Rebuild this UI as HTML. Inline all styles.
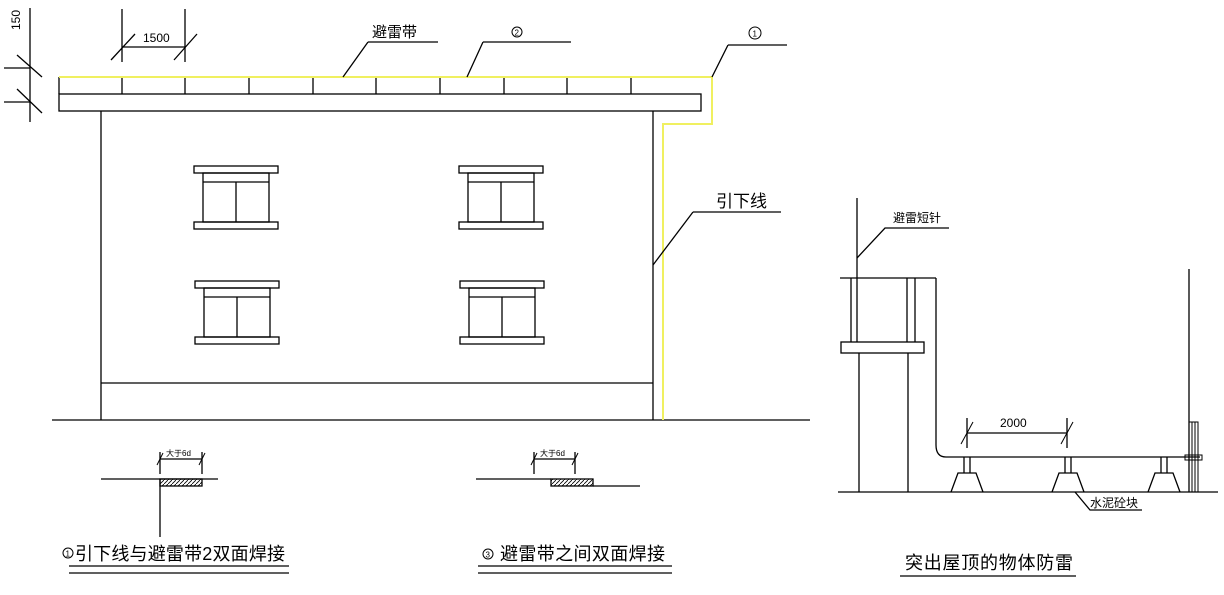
<!DOCTYPE html>
<html><head><meta charset="utf-8"><style>
html,body{margin:0;padding:0;background:#fff;width:1224px;height:595px;overflow:hidden}
svg{display:block}
text{font-family:"Liberation Sans","Noto Sans CJK SC",sans-serif;fill:#000}
</style></head><body>
<svg width="1224" height="595" viewBox="0 0 1224 595" xmlns="http://www.w3.org/2000/svg" stroke="#000" stroke-width="1.3" fill="none">
<defs>
<pattern id="h" width="4" height="4" patternUnits="userSpaceOnUse"><line x1="0" y1="4" x2="4" y2="0" stroke="#000" stroke-width="0.8"/></pattern>
</defs>
<!-- left dimension 150 -->
<line x1="30" y1="8" x2="30" y2="122"/>
<line x1="4" y1="68" x2="30" y2="68"/><line x1="4" y1="102" x2="30" y2="102"/>
<line x1="17" y1="55" x2="42" y2="77"/><line x1="17" y1="89" x2="42" y2="113"/>
<text x="0" y="0" font-size="12" stroke="none" transform="translate(20,30) rotate(-90)">150</text>
<!-- 1500 dim -->
<line x1="122" y1="9" x2="122" y2="62"/><line x1="185" y1="9" x2="185" y2="62"/>
<line x1="122" y1="47" x2="185" y2="47"/>
<line x1="111" y1="60" x2="135" y2="34"/><line x1="174" y1="60" x2="197" y2="34"/>
<text x="143" y="42" font-size="12" stroke="none">1500</text>
<!-- parapet -->
<line x1="59" y1="77" x2="59" y2="94"/>
<line x1="122" y1="77" x2="122" y2="94"/><line x1="185" y1="77" x2="185" y2="94"/>
<line x1="249" y1="77" x2="249" y2="94"/><line x1="313" y1="77" x2="313" y2="94"/>
<line x1="376" y1="77" x2="376" y2="94"/><line x1="440" y1="77" x2="440" y2="94"/>
<line x1="504" y1="77" x2="504" y2="94"/><line x1="567" y1="77" x2="567" y2="94"/>
<line x1="631" y1="77" x2="631" y2="94"/>
<rect x="59" y="94" width="642" height="17"/>
<!-- wall -->
<line x1="101" y1="111" x2="101" y2="420"/><line x1="653" y1="111" x2="653" y2="420"/>
<line x1="101" y1="383" x2="653" y2="383"/>
<line x1="52" y1="420" x2="810" y2="420"/>
<!-- yellow strap -->
<polyline points="59,77 712,77 712,124 663,124 663,420" stroke="#f0f060" stroke-width="2"/>
<!-- windows -->
<g id="w">
<rect x="194" y="166" width="84" height="7"/>
<rect x="203" y="173" width="66" height="49"/>
<line x1="203" y1="182" x2="269" y2="182"/>
<line x1="236" y1="182" x2="236" y2="222"/>
<rect x="194" y="222" width="84" height="7"/>
</g>
<use href="#w" x="1" y="115"/>
<use href="#w" x="265" y="0"/>
<use href="#w" x="266" y="115"/>
<!-- labels top -->
<line x1="343" y1="77" x2="368" y2="42"/><line x1="368" y1="42" x2="438" y2="42"/>
<text x="372" y="37" font-size="15" stroke="none">避雷带</text>
<line x1="467" y1="77" x2="483" y2="42"/><line x1="483" y1="42" x2="571" y2="42"/>
<circle cx="517" cy="32" r="5" stroke-width="1"/><text x="514.5" y="35.5" font-size="8" stroke="none">2</text>
<line x1="712" y1="77" x2="728" y2="45"/><line x1="728" y1="45" x2="787" y2="45"/>
<circle cx="755" cy="33" r="6" stroke-width="1"/><text x="752.5" y="36.5" font-size="8" stroke="none">1</text>
<line x1="653" y1="265" x2="693" y2="212"/><line x1="693" y1="212" x2="781" y2="212"/>
<text x="716" y="207" font-size="17" stroke="none">引下线</text>

<!-- detail 1 -->
<line x1="101" y1="479" x2="218" y2="479"/>
<rect x="160" y="479" width="42" height="7" fill="url(#h)"/>
<line x1="160" y1="479" x2="160" y2="537"/>
<line x1="160" y1="452" x2="160" y2="474"/><line x1="202" y1="452" x2="202" y2="474"/>
<line x1="160" y1="459" x2="202" y2="459"/>
<line x1="157" y1="465" x2="163" y2="453" stroke-width="1"/><line x1="199" y1="465" x2="205" y2="453" stroke-width="1"/>
<text x="166" y="456" font-size="8" stroke="none">大于6d</text>
<circle cx="68" cy="553" r="5" stroke-width="1"/><text x="65.5" y="556.5" font-size="8" stroke="none">1</text>
<text x="75" y="560" font-size="18" stroke="none" textLength="210">引下线与避雷带2双面焊接</text>
<line x1="69" y1="566" x2="289" y2="566"/><line x1="69" y1="573" x2="289" y2="573"/>

<!-- detail 2 -->
<line x1="476" y1="479" x2="551" y2="479"/>
<rect x="551" y="479" width="42" height="7" fill="url(#h)"/>
<line x1="593" y1="486" x2="640" y2="486"/>
<line x1="534" y1="452" x2="534" y2="474"/><line x1="575" y1="452" x2="575" y2="474"/>
<line x1="534" y1="459" x2="575" y2="459"/>
<line x1="531" y1="465" x2="537" y2="453" stroke-width="1"/><line x1="572" y1="465" x2="578" y2="453" stroke-width="1"/>
<text x="540" y="456" font-size="8" stroke="none">大于6d</text>
<circle cx="488" cy="554" r="5" stroke-width="1"/><text x="485.5" y="557.5" font-size="8" stroke="none">3</text>
<text x="500" y="560" font-size="18" stroke="none" textLength="165">避雷带之间双面焊接</text>
<line x1="478" y1="566" x2="672" y2="566"/><line x1="478" y1="573" x2="672" y2="573"/>

<!-- right figure -->
<line x1="857" y1="198" x2="857" y2="278"/>
<polyline points="857,258 885,228 949,228"/>
<text x="893" y="222" font-size="12" stroke="none">避雷短针</text>
<line x1="840" y1="278" x2="936" y2="278"/>
<line x1="851" y1="278" x2="851" y2="342"/><line x1="857" y1="278" x2="857" y2="342"/>
<line x1="907" y1="278" x2="907" y2="342"/><line x1="915" y1="278" x2="915" y2="342"/>
<rect x="841" y="342" width="83" height="11"/>
<line x1="859" y1="353" x2="859" y2="492"/><line x1="908" y1="353" x2="908" y2="492"/>
<line x1="838" y1="492" x2="1218" y2="492"/>
<path d="M936,278 V445 Q936,457 946,457 H1200"/>
<g id="s">
<line x1="964" y1="457" x2="964" y2="473"/><line x1="970" y1="457" x2="970" y2="473"/>
<polyline points="951,492 958,473 976,473 983,492"/>
</g>
<use href="#s" x="101"/>
<use href="#s" x="197"/>
<line x1="967" y1="418" x2="967" y2="448"/><line x1="1067" y1="418" x2="1067" y2="448"/>
<line x1="967" y1="433" x2="1067" y2="433"/>
<line x1="961" y1="444" x2="973" y2="422" stroke-width="1"/><line x1="1061" y1="444" x2="1073" y2="422" stroke-width="1"/>
<text x="1000" y="427" font-size="12" stroke="none">2000</text>
<line x1="1189" y1="269" x2="1189" y2="492"/>
<rect x="1189" y="422" width="9" height="70" stroke-width="1"/>
<line x1="1192" y1="422" x2="1192" y2="492" stroke-width="1"/><line x1="1195" y1="422" x2="1195" y2="492" stroke-width="1"/>
<rect x="1185" y="455" width="17" height="5" stroke-width="1"/>
<polyline points="1075,492 1090,510 1142,510"/>
<text x="1090" y="507" font-size="12" stroke="none">水泥砼块</text>
<text x="905" y="569" font-size="18" stroke="none" textLength="168">突出屋顶的物体防雷</text>
<line x1="900" y1="576" x2="1076" y2="576"/>
</svg>
</body></html>
